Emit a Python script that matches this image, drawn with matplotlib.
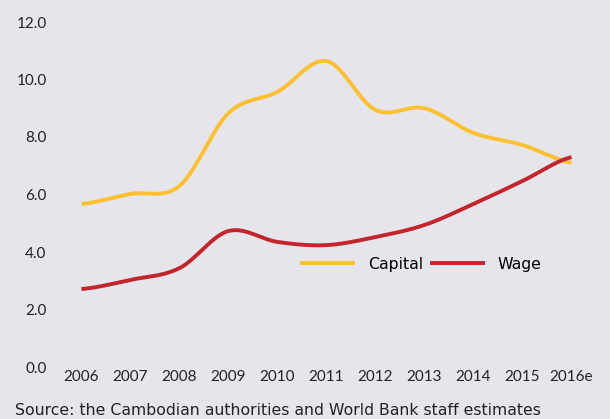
import numpy as np
import matplotlib.pyplot as plt

# Data (percent)
years = ["2006", "2007", "2008", "2009", "2010", "2011", "2012", "2013", "2014", "2015", "2016e"]
capital = [5.67, 6.02, 6.3, 8.83, 9.57, 10.64, 8.94, 9.0, 8.14, 7.72, 7.1]
wage = [2.71, 3.03, 3.44, 4.73, 4.35, 4.24, 4.52, 4.94, 5.67, 6.47, 7.3]

bg = "#E6E5EB"


def smooth(y, n=30):
    # Excel-like smoothed line (Catmull-Rom through the points)
    x = np.arange(len(y), dtype=float)
    y = np.asarray(y, dtype=float)
    px = np.concatenate([[2 * x[0] - x[1]], x, [2 * x[-1] - x[-2]]])
    py = np.concatenate([[y[0]], y, [y[-1]]])
    xs, ys = [], []
    t = np.linspace(0, 1, n)
    for i in range(1, len(px) - 2):
        for arr, out in ((px, xs), (py, ys)):
            p0, p1, p2, p3 = arr[i - 1], arr[i], arr[i + 1], arr[i + 2]
            m1 = (p2 - p0) / 2
            m2 = (p3 - p1) / 2
            h00 = 2 * t**3 - 3 * t**2 + 1
            h10 = t**3 - 2 * t**2 + t
            h01 = -2 * t**3 + 3 * t**2
            h11 = t**3 - t**2
            out.append(h00 * p1 + h10 * m1 + h01 * p2 + h11 * m2)
    return np.concatenate(xs), np.concatenate(ys)


plt.rcParams['font.family'] = ['Lato', 'DejaVu Sans']

fig = plt.figure(figsize=(6.10, 4.19), dpi=100, facecolor=bg)
ax = fig.add_axes([57 / 610, 1 - 367 / 419, 539 / 610, 345 / 419])
ax.set_facecolor(bg)

cx, cy = smooth(capital)
wx, wy = smooth(wage)
ax.plot(cx, cy, color="#FDC02F", lw=2.8, label="Capital", solid_capstyle="butt")
ax.plot(wx, wy, color="#C3252C", lw=2.8, label="Wage", solid_capstyle="butt")

ax.set_xlim(-0.5, len(years) - 0.5)
ax.set_ylim(0, 12)
ax.set_xticks(range(len(years)))
ax.set_xticklabels(years)
ax.set_yticks(np.arange(0, 12.1, 2))
ax.set_yticklabels([f"{v:.1f}" for v in np.arange(0, 12.1, 2)])
ax.tick_params(length=0, labelsize=11, colors="#222222")
ax.tick_params(axis="y", pad=7.5)
ax.tick_params(axis="x", pad=2.5)
for s in ax.spines.values():
    s.set_visible(False)

ax.legend(loc="upper left", bbox_to_anchor=(0.425, 0.36), ncol=2, frameon=False,
          prop={"family": "DejaVu Sans", "size": 11.3},
          handlelength=3.5, columnspacing=0.45, handletextpad=0.8)

fig.text(15 / 610, 1 - 410 / 419, "Source: the Cambodian authorities and World Bank staff estimates",
         fontsize=11.3, family="DejaVu Sans", color="#222222", va="center", ha="left")

fig.savefig("out.png", dpi=100, facecolor=bg)
